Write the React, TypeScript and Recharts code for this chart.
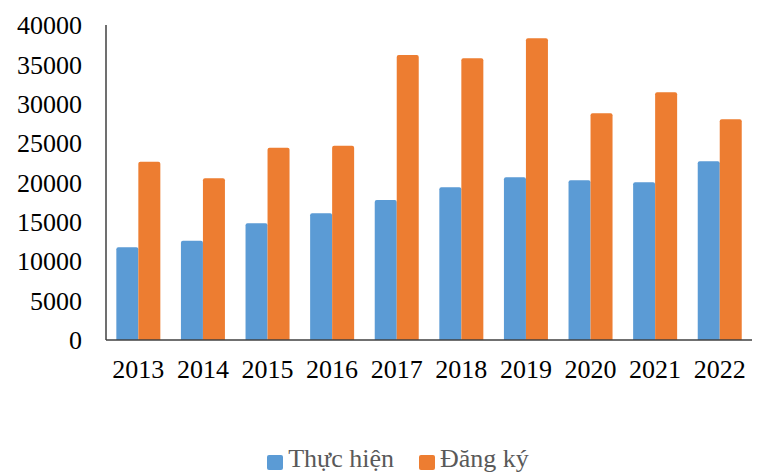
import { Bar, BarChart, Legend, XAxis, YAxis } from "recharts";

const years = ["2013", "2014", "2015", "2016", "2017", "2018", "2019", "2020", "2021", "2022"];
const thucHien = [11770, 12610, 14820, 16080, 17780, 19390, 20660, 20280, 20020, 22690];
const dangKy = [22640, 20530, 24420, 24670, 36190, 35770, 38310, 28790, 31450, 28020];
const yTicks = [0, 5000, 10000, 15000, 20000, 25000, 30000, 35000, 40000];

const BLUE = "#5B9BD5";
const ORANGE = "#ED7D31";
const FONT = "'Liberation Serif', 'Times New Roman', serif";

const rows = years.map((y, i) => ({ year: y, thucHien: thucHien[i], dangKy: dangKy[i] }));

function LegendBox() {
  const items = [
    { label: "Thực hiện", color: BLUE },
    { label: "Đăng ký", color: ORANGE },
  ];
  return (
    <div
      style={{
        display: "flex",
        justifyContent: "center",
        gap: 25,
        height: 26,
        lineHeight: "26px",
        fontFamily: FONT,
        fontSize: 26,
        color: "#595959",
        paddingLeft: 44,
      }}
    >
      {items.map((it) => (
        <span key={it.label} style={{ display: "flex", alignItems: "center" }}>
          <span
            style={{
              width: 16,
              height: 15,
              background: it.color,
              borderRadius: 2,
              marginRight: 5,
              marginTop: 6,
            }}
          />
          {it.label}
        </span>
      ))}
    </div>
  );
}

export default function App() {
  return (
    <div style={{ position: "absolute", top: 0, left: 0, width: 772, height: 476, background: "#fff" }}>
      <BarChart
        width={772}
        height={476}
        data={rows}
        margin={{ top: 25, right: 20, bottom: 0, left: 0 }}
        barCategoryGap="16%"
        barGap={0}
      >
        <XAxis
          dataKey="year"
          height={110}
          tickLine={false}
          tickSize={0}
          tickMargin={20}
          axisLine={{ stroke: "#404040", strokeWidth: 1.5 }}
          tick={{ fontSize: 26, fill: "#000", fontFamily: FONT }}
        />
        <YAxis
          width={106}
          domain={[0, 40000]}
          ticks={yTicks}
          interval={0}
          tickLine={false}
          tickSize={0}
          tickMargin={24}
          axisLine={{ stroke: "#404040", strokeWidth: 1.5 }}
          tick={{ fontSize: 26, fill: "#000", fontFamily: FONT }}
        />
        <Legend
          verticalAlign="bottom"
          wrapperStyle={{ top: 446, bottom: "auto" }}
          content={() => <LegendBox />}
        />
        <Bar dataKey="thucHien" name="Thực hiện" fill={BLUE} radius={[2, 2, 0, 0]} isAnimationActive={false} />
        <Bar dataKey="dangKy" name="Đăng ký" fill={ORANGE} radius={[2, 2, 0, 0]} isAnimationActive={false} />
      </BarChart>
    </div>
  );
}
